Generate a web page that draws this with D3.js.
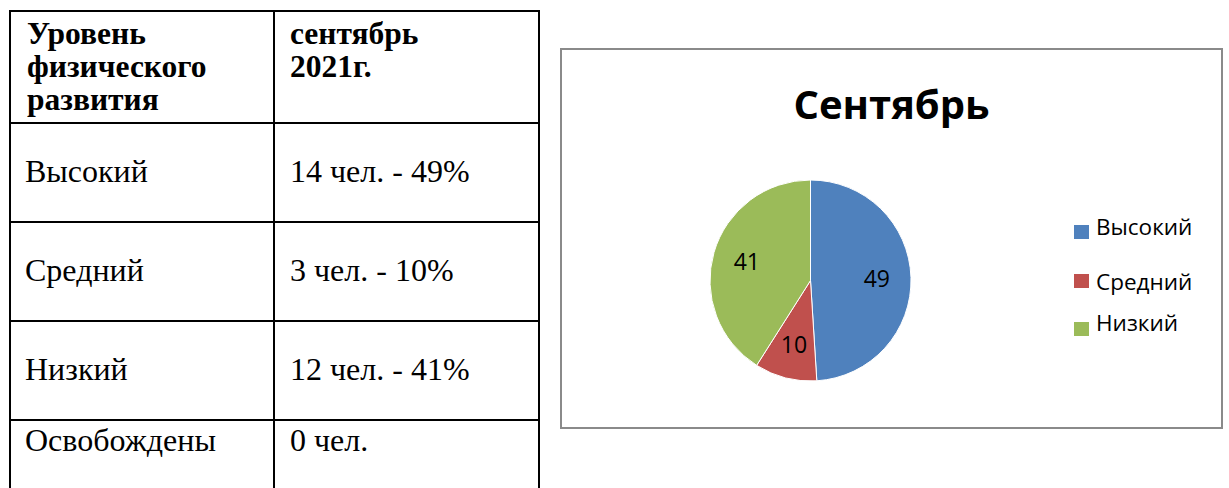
<!DOCTYPE html>
<html>
<head>
<meta charset="utf-8">
<script src="https://cdn.jsdelivr.net/npm/d3@7"></script>
<style>
  body { margin: 0; background: #fff; }
  svg { display: block; }
</style>
</head>
<body>
<div id="chart"></div>
<script>
// table data
const headerLevel = ["Уровень", "физического", "развития"];
const headerMonth = ["сентябрь", "2021г."];
const levels = ["Высокий", "Средний", "Низкий", "Освобождены"];
const counts = [14, 3, 12, 0];
const percents = [49, 10, 41, null];

// pie data (first three levels)
const pieCategories = ["Высокий", "Средний", "Низкий"];
const pieValues = [49, 10, 41];
const pieColors = ["#4F81BD", "#C0504D", "#9BBB59"];
const chartTitle = "Сентябрь";

const W = 1229, H = 488;

const svg = d3.select("#chart")
    .append("svg")
    .attr("width", W)
    .attr("height", H)
    .attr("viewBox", `0 0 ${W} ${H}`);

// ---------- table ----------
const table = { left: 10, right: 539, top: 11, colX: 274 }
const rowY = d3.scaleLinear().domain([0, 4]).range([123, 519]);

const tg = svg.append("g").attr("class", "table");

// horizontal lines
tg.selectAll(".hline")
    .data([table.top, ...levels.map((d, i) => rowY(i))])
    .join("line")
    .attr("class", "hline")
    .attr("x1", table.left - 1).attr("x2", table.right + 1)
    .attr("y1", d => d).attr("y2", d => d)
    .attr("stroke", "#000").attr("stroke-width", 2);

// vertical lines
tg.selectAll(".vline")
    .data([table.left, table.colX, table.right])
    .join("line")
    .attr("class", "vline")
    .attr("x1", d => d).attr("x2", d => d)
    .attr("y1", table.top - 1).attr("y2", H + 2)
    .attr("stroke", "#000").attr("stroke-width", 2);

const serif = "'Liberation Serif', 'Times New Roman', serif";

// header text
const header = tg.append("g")
    .attr("font-family", serif)
    .attr("font-weight", "bold")
    .attr("font-size", 31.5);

header.selectAll(".h1")
    .data(headerLevel)
    .join("text")
    .attr("x", 27)
    .attr("y", (d, i) => 44 + i * 33)
    .text(d => d);

header.selectAll(".h2")
    .data(headerMonth)
    .join("text")
    .attr("x", 290)
    .attr("y", (d, i) => 44 + i * 33)
    .text(d => d);

// body rows
const body = tg.append("g")
    .attr("font-family", serif)
    .attr("font-size", 32);

const rowBaseline = (d, i) => rowY(i) + (i < 3 ? 59 : 31);

body.selectAll(".lvl")
    .data(levels)
    .join("text")
    .attr("x", 25)
    .attr("y", rowBaseline)
    .text(d => d);

body.selectAll(".val")
    .data(levels)
    .join("text")
    .attr("x", 290)
    .attr("y", rowBaseline)
    .text((d, i) => percents[i] == null ? `${counts[i]} чел.` : `${counts[i]} чел. - ${percents[i]}%`);

// ---------- chart box ----------
const box = { x: 561, y: 49, w: 661, h: 379 };
svg.append("rect")
    .attr("x", box.x).attr("y", box.y)
    .attr("width", box.w).attr("height", box.h)
    .attr("fill", "#fff")
    .attr("stroke", "#8a8a8a")
    .attr("stroke-width", 2);

const sans = "'Open Sans', 'Noto Sans', sans-serif";

svg.append("text")
    .attr("x", box.x + box.w / 2)
    .attr("y", 119)
    .attr("text-anchor", "middle")
    .attr("font-family", sans)
    .attr("font-weight", "bold")
    .attr("font-size", 40)
    .attr("fill", "#000")
    .text(chartTitle);

// pie
const cx = 810.5, cy = 280.5, radius = 100.5;
const pie = d3.pie().sort(null).value(d => d);
const arcs = pie(pieValues);
const arc = d3.arc().innerRadius(0).outerRadius(radius);
const labelArc = d3.arc().innerRadius(radius * 0.66).outerRadius(radius * 0.66);

const pg = svg.append("g").attr("transform", `translate(${cx},${cy})`);

pg.selectAll("path")
    .data(arcs)
    .join("path")
    .attr("d", arc)
    .attr("fill", (d, i) => pieColors[i])
    .attr("stroke", "#fff")
    .attr("stroke-width", 1);

pg.selectAll(".lbl")
    .data(arcs)
    .join("text")
    .attr("class", "lbl")
    .attr("transform", d => `translate(${labelArc.centroid(d)})`)
    .attr("text-anchor", "middle")
    .attr("dy", "0.36em")
    .attr("font-family", sans)
    .attr("font-size", 23)
    .attr("fill", "#000")
    .text(d => d.data);

// legend: swatches and labels sit at slightly different heights, as in Excel
const swatchY = d3.scaleOrdinal().domain(pieCategories).range([232, 281, 329]);
const legendTextY = d3.scaleOrdinal().domain(pieCategories).range([227, 282, 323]);
const lg = svg.append("g");
lg.selectAll("rect")
    .data(pieCategories)
    .join("rect")
    .attr("x", 1074)
    .attr("y", d => swatchY(d) - 7)
    .attr("width", 15).attr("height", 14)
    .attr("fill", (d, i) => pieColors[i]);

lg.selectAll("text")
    .data(pieCategories)
    .join("text")
    .attr("x", 1096)
    .attr("y", d => legendTextY(d))
    .attr("dy", "0.35em")
    .attr("font-family", sans)
    .attr("font-size", 22.5)
    .attr("fill", "#000")
    .text(d => d);
</script>
</body>
</html>
